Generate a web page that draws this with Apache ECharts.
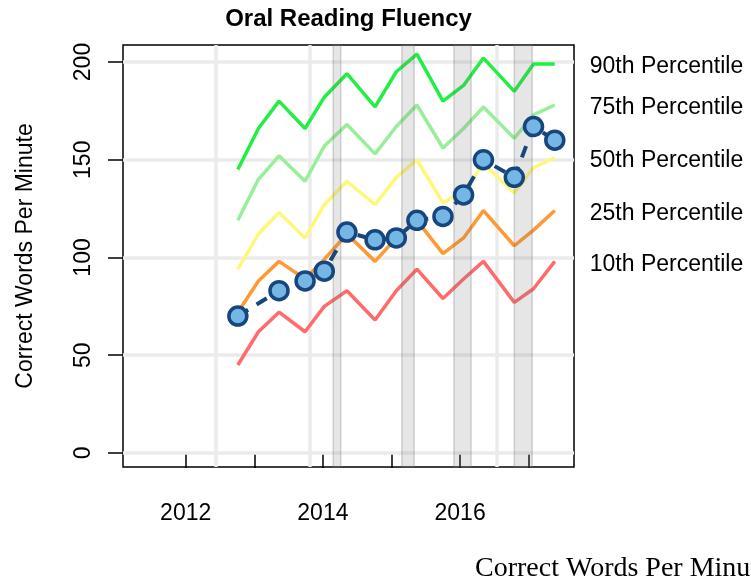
<!DOCTYPE html>
<html>
<head>
<meta charset="utf-8">
<script src="https://cdn.jsdelivr.net/npm/echarts@6/dist/echarts.min.js"></script>
<style>
html, body { margin: 0; padding: 0; background: #fff; }
#chart { width: 751px; height: 584px; }
</style>
</head>
<body>
<div id="chart"></div>
<script>
// benchmark dates (fall / winter / spring), as decimal years
const dates = [2012.76, 2013.06, 2013.36, 2013.74, 2014.02, 2014.35, 2014.76, 2015.07, 2015.37, 2015.75, 2016.05, 2016.34, 2016.79, 2017.07, 2017.38]
const p90 = [145, 166, 180, 166, 182, 194, 177, 195, 204, 180, 188, 202, 185, 199, 199]
const p75 = [119, 140, 152, 139, 157, 168, 153, 167, 178, 156, 166, 177, 161, 173, 178]
const p50 = [94, 112, 123, 110, 127, 139, 127, 141, 150, 128, 134, 148, 133, 146, 151]
const p25 = [72, 88, 98, 89, 99, 112, 98, 110, 119, 102, 110, 124, 106, 114, 124]
const p10 = [45, 62, 72, 62, 75, 83, 68, 83, 94, 79, 89, 98, 77, 84, 98]
const student = [70, null, 83, 88, 93, 113, 109, 110, 119, 121, 132, 150, 141, 167, 160]

const bands = [[2014.15, 2014.26], [2015.15, 2015.33], [2015.91, 2016.16], [2016.79, 2017.05]]
const refYears = [2012.44, 2013.81, 2016.54]
const yTicks = [0, 50, 100, 150, 200]
const xTicks = [2012, 2013, 2014, 2015, 2016, 2017]
const xLabels = [2012, 2014, 2016]

const FONT = 'Liberation Sans'

const pair = vals => dates.map((d, i) => [d, vals[i]])

function pctLine(name, vals, color) {
  return {
    name,
    type: 'line',
    z: 2,
    data: pair(vals),
    symbol: 'none',
    silent: true,
    lineStyle: { color, width: 3.5 },
    endLabel: {
      show: true,
      formatter: '{a}',
      distance: 35,
      offset: [0, 3],
      color: '#000',
      fontSize: 23,
      fontFamily: FONT
    }
  }
}

const chart = echarts.init(document.getElementById('chart'), null, { renderer: 'canvas' })

chart.setOption({
  backgroundColor: '#fff',
  animation: false,
  grid: {
    left: 123, right: 177, top: 45, bottom: 117,
    show: true, borderColor: '#000', borderWidth: 1.5, backgroundColor: 'transparent'
  },
  graphic: [
    {
      type: 'text', x: 348.5, y: 19,
      style: { text: 'Oral Reading Fluency', font: 'bold 24px "Liberation Sans"', fill: '#000', align: 'center', verticalAlign: 'middle' }
    },
    {
      type: 'text', x: 475, y: 569,
      style: { text: 'Correct Words Per Minute', font: '28px "Liberation Serif"', fill: '#000', align: 'left', verticalAlign: 'middle' }
    }
  ],
  xAxis: {
    type: 'value',
    min: 2011.086,
    max: 2017.66,
    axisLine: { show: false },
    splitLine: { show: false },
    axisTick: { show: true, customValues: xTicks, length: 15, lineStyle: { color: '#000', width: 1.5 } },
    axisLabel: {
      customValues: xLabels,
      formatter: v => String(v),
      margin: 35,
      fontSize: 23,
      fontFamily: FONT,
      color: '#000'
    }
  },
  yAxis: {
    type: 'value',
    min: -7.2,
    max: 208.7,
    name: 'Correct Words Per Minute',
    nameLocation: 'middle',
    nameGap: 86,
    nameTextStyle: { fontSize: 23, fontFamily: FONT, color: '#000' },
    axisLine: { show: false },
    splitLine: { show: false },
    axisTick: { show: true, customValues: yTicks, length: 15, lineStyle: { color: '#000', width: 1.5 } },
    axisLabel: {
      customValues: yTicks,
      rotate: 90,
      margin: 28,
      fontSize: 23,
      fontFamily: FONT,
      color: '#000'
    }
  },
  series: [
    {
      type: 'line',
      z: 1,
      data: [],
      silent: true,
      markLine: {
        z: 1,
        silent: true,
        symbol: 'none',
        label: { show: false },
        lineStyle: { color: '#ebebeb', width: 3.5, type: 'solid' },
        data: yTicks.map(v => ({ yAxis: v })).concat(refYears.map(v => ({ xAxis: v })))
      }
    },
    pctLine('90th Percentile', p90, '#22ee44'),
    pctLine('75th Percentile', p75, '#99ee99'),
    pctLine('50th Percentile', p50, '#fff77a'),
    pctLine('25th Percentile', p25, '#ff9933'),
    pctLine('10th Percentile', p10, '#ff6b6b'),
    {
      type: 'line',
      z: 4,
      data: [],
      silent: true,
      markArea: {
        z: 4,
        silent: true,
        itemStyle: { color: 'rgba(120,120,120,0.19)', borderColor: 'rgba(110,110,110,0.28)', borderWidth: 1.5 },
        data: bands.map(b => [{ xAxis: b[0] }, { xAxis: b[1] }])
      }
    },
    {
      name: 'Student',
      type: 'line',
      z: 6,
      data: pair(student),
      connectNulls: true,
      symbol: 'circle',
      symbolSize: 18,
      showSymbol: true,
      lineStyle: { color: '#17467d', width: 4, type: [12, 10] },
      itemStyle: { color: '#74b6e6', borderColor: '#17467d', borderWidth: 3.5 }
    }
  ]
})
</script>
</body>
</html>
